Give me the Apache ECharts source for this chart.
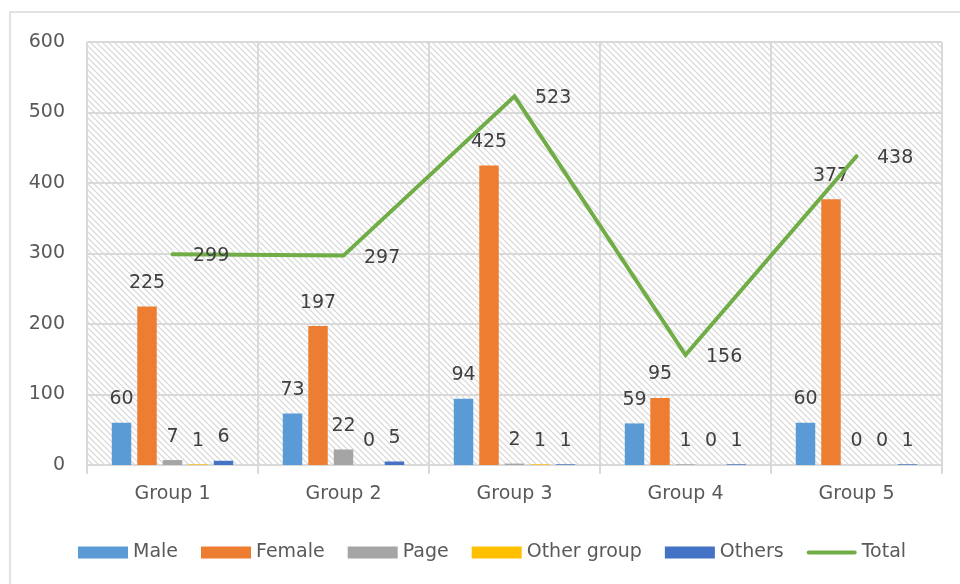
<!DOCTYPE html>
<html>
<head>
<meta charset="utf-8">
<script src="https://cdn.jsdelivr.net/npm/echarts@6/dist/echarts.min.js"></script>
<style>
  html, body { margin: 0; padding: 0; background: #ffffff; }
  #chart { width: 960px; height: 584px; }
</style>
</head>
<body>
<div id="chart"></div>
<script>
// Categories and series values
const categories = ['Group 1', 'Group 2', 'Group 3', 'Group 4', 'Group 5'];
const male = [60, 73, 94, 59, 60];
const female = [225, 197, 425, 95, 377];
const page = [7, 22, 2, 1, 0];
const otherGroup = [1, 0, 1, 0, 0];
const others = [6, 5, 1, 1, 1];
const total = [299, 297, 523, 156, 438];
const yTicks = { min: 0, max: 600, interval: 100 };

const FONT = 'DejaVu Sans';
const GRID_GRAY = '#d9d9d9';
const LINE_GREEN = '#70ad47';

// Diagonal hatch tile for the plot background
function hatchTile() {
  const n = 6;
  const c = document.createElement('canvas');
  c.width = n; c.height = n;
  const ctx = c.getContext('2d');
  const img = ctx.createImageData(n, n);
  for (let y = 0; y < n; y++) {
    for (let x = 0; x < n; x++) {
      const d = ((x - y) % n + n) % n;
      let v = 255;
      if (d === 0) v = 218;
      else if (d === 1 || d === n - 1) v = 240;
      const i = (y * n + x) * 4;
      img.data[i] = v; img.data[i + 1] = v; img.data[i + 2] = v; img.data[i + 3] = 255;
    }
  }
  ctx.putImageData(img, 0, 0);
  return c;
}

const valueLabel = {
  show: true,
  position: 'top',
  distance: 14,
  color: '#404040',
  fontFamily: FONT,
  fontSize: 19
};

function barSeries(name, data, color) {
  return {
    name: name,
    type: 'bar',
    data: data,
    itemStyle: { color: color },
    label: valueLabel,
    barGap: '31%',
    barCategoryGap: '29%'
  };
}

// Rounded stroke used as the legend key of the total line
const lineKey = 'path://M2,0 L48,0 A2,2 0 0 1 48,4 L2,4 A2,2 0 0 1 2,0 Z';

const chart = echarts.init(document.getElementById('chart'));
chart.setOption({
  animation: false,
  backgroundColor: '#ffffff',
  textStyle: { fontFamily: FONT },
  graphic: [{
    type: 'rect',
    shape: { x: 10, y: 12, width: 970, height: 600 },
    style: { fill: 'none', stroke: GRID_GRAY, lineWidth: 1.5 },
    silent: true
  }],
  grid: {
    left: 87, right: 18, top: 42, bottom: 119,
    show: true,
    borderWidth: 0,
    backgroundColor: { image: hatchTile(), repeat: 'repeat' }
  },
  legend: {
    left: 73,
    top: 538,
    itemWidth: 50,
    itemHeight: 12,
    itemGap: 23,
    textStyle: { color: '#595959', fontFamily: FONT, fontSize: 19 },
    data: [
      { name: 'Male', icon: 'rect' },
      { name: 'Female', icon: 'rect' },
      { name: 'Page', icon: 'rect' },
      { name: 'Other group', icon: 'rect' },
      { name: 'Others', icon: 'rect' },
      { name: 'Total', icon: lineKey, itemStyle: { color: LINE_GREEN } }
    ]
  },
  xAxis: {
    type: 'category',
    data: categories,
    axisLine: { lineStyle: { color: GRID_GRAY, width: 2 } },
    axisTick: { show: true, length: 9, lineStyle: { color: GRID_GRAY, width: 2 } },
    axisLabel: { color: '#595959', fontFamily: FONT, fontSize: 19, margin: 20 },
    splitLine: { show: true, lineStyle: { color: GRID_GRAY, width: 2 } }
  },
  yAxis: {
    type: 'value',
    min: yTicks.min,
    max: yTicks.max,
    interval: yTicks.interval,
    axisLine: { show: false },
    axisTick: { show: false },
    axisLabel: { color: '#595959', fontFamily: FONT, fontSize: 19, margin: 22 },
    splitLine: { show: true, lineStyle: { color: GRID_GRAY, width: 2 } }
  },
  series: [
    barSeries('Male', male, '#5b9bd5'),
    barSeries('Female', female, '#ed7d31'),
    barSeries('Page', page, '#a5a5a5'),
    barSeries('Other group', otherGroup, '#ffc000'),
    barSeries('Others', others, '#4472c4'),
    {
      name: 'Total',
      type: 'line',
      data: total,
      symbol: 'circle',
      symbolSize: 1,
      showSymbol: true,
      itemStyle: { color: LINE_GREEN },
      lineStyle: { color: LINE_GREEN, width: 4, cap: 'round', join: 'miter' },
      label: {
        show: true,
        position: 'right',
        distance: 20,
        offset: [0, 2],
        color: '#404040',
        fontFamily: FONT,
        fontSize: 19
      },
      z: 3
    }
  ]
});
</script>
</body>
</html>
